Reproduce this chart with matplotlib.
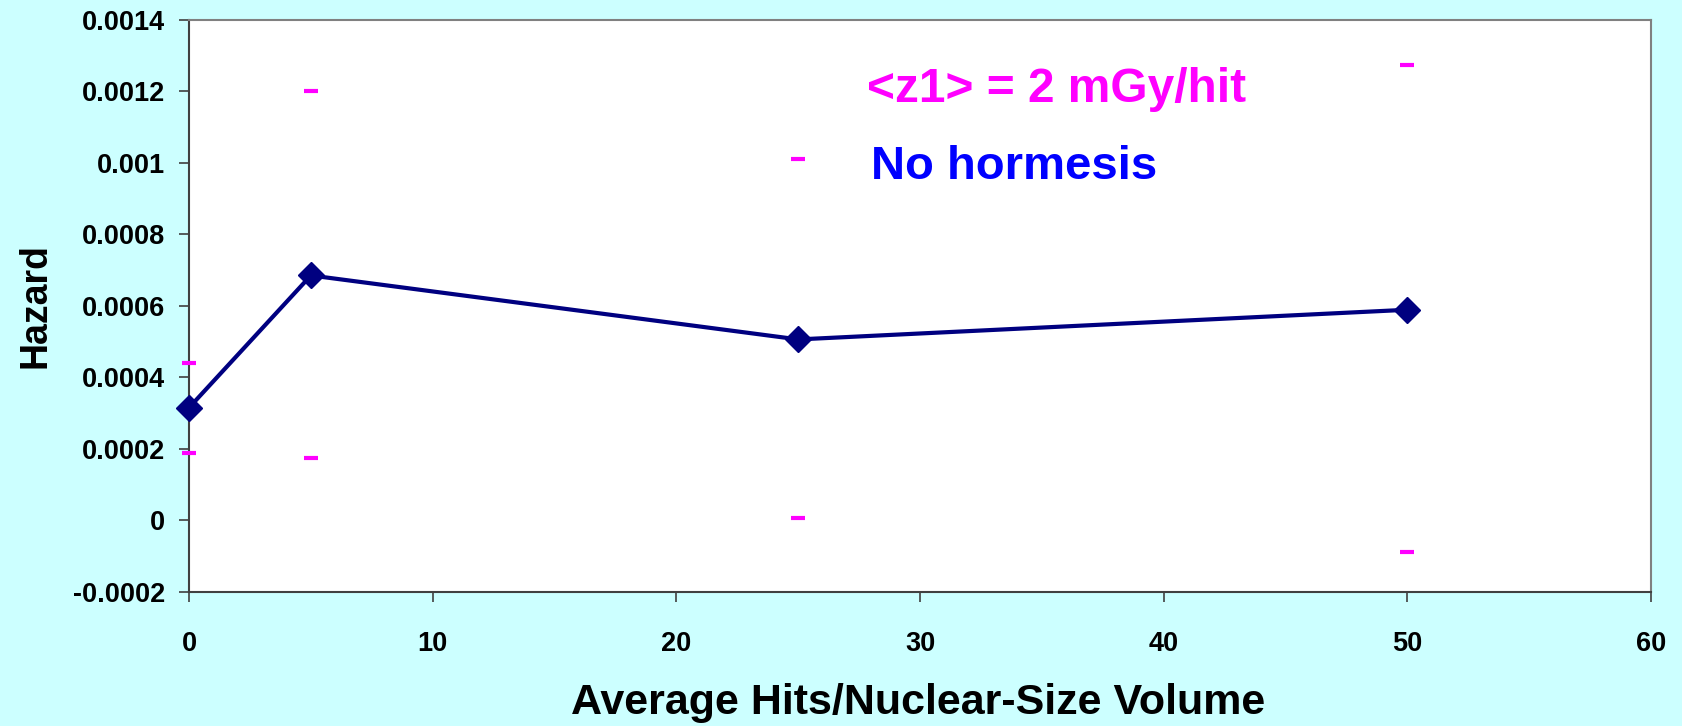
import matplotlib
matplotlib.use("Agg")
import matplotlib.pyplot as plt

plt.rcParams['font.family'] = ['Liberation Sans', 'DejaVu Sans']
plt.rcParams['font.weight'] = 'bold'

# hazard vs. average hits, with upper/lower limits drawn as caps only
hits = [0, 5, 25, 50]
hazard = [0.000315, 0.000685, 0.000506, 0.000589]
upper = [0.000441, 0.001202, 0.001012, 0.001275]
lower = [0.000189, 0.000173, 0.000005, -0.00009]

yticks = [-0.0002, 0, 0.0002, 0.0004, 0.0006, 0.0008, 0.001, 0.0012, 0.0014]
ytick_labels = ["-0.0002", "0", "0.0002", "0.0004", "0.0006", "0.0008", "0.001", "0.0012", "0.0014"]
xticks = [0, 10, 20, 30, 40, 50, 60]

bg = "#CCFFFF"
fig = plt.figure(figsize=(16.82, 7.26), dpi=100, facecolor=bg)
ax = fig.add_axes([0.1124, 0.185, 0.8692, 0.7875])
ax.set_facecolor("white")

ax.plot(hits, hazard, "-", color="#000080", lw=3, marker="D", ms=13,
        mfc="#000080", mec="#000080", clip_on=False, zorder=3)
ax.plot(hits, upper, "_", color="#FF00FF", ms=10, mew=3, clip_on=False, zorder=4)
ax.plot(hits, lower, "_", color="#FF00FF", ms=10, mew=3, clip_on=False, zorder=4)

ax.set_xlim(0, 60)
ax.set_ylim(-0.0002, 0.0014)
ax.set_xticks(xticks)
ax.set_yticks(yticks)
ax.set_yticklabels(ytick_labels)

ax.tick_params(axis="both", direction="out", length=7, width=1.2,
               color="#404040", labelsize=19.5)
ax.tick_params(axis="x", pad=21)
ax.tick_params(axis="y", pad=10)

for s in ["left", "bottom"]:
    ax.spines[s].set_color("#404040")
    ax.spines[s].set_linewidth(1.5)
for s in ["top", "right"]:
    ax.spines[s].set_color("#808080")
    ax.spines[s].set_linewidth(1.5)

ax.set_ylabel("Hazard", fontsize=27, fontweight="bold", labelpad=14)
fig.text(0.546, 0.004, "Average Hits/Nuclear-Size Volume", fontsize=31,
         fontweight="bold", ha="center", va="bottom")

ax.text(0.4637, 0.878, "<z1> = 2 mGy/hit", transform=ax.transAxes,
        fontsize=34.5, fontweight="bold", color="#FF00FF", ha="left", va="center")
ax.text(0.4665, 0.742, "No hormesis", transform=ax.transAxes,
        fontsize=34, fontweight="bold", color="#0000FF", ha="left", va="center")

fig.savefig("out.png", dpi=100, facecolor=bg)
